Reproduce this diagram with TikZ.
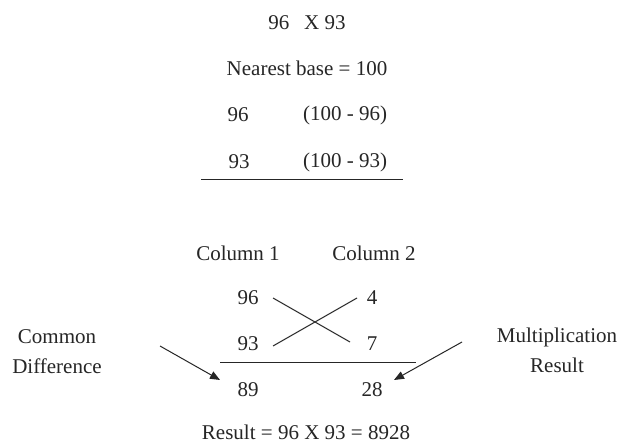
\documentclass[tikz,border=0pt]{standalone}
\usepackage{fontspec}
\setmainfont{Liberation Serif}
\usetikzlibrary{arrows.meta}
\begin{document}
\begin{tikzpicture}[x=1pt,y=-1pt,
  txt/.style={inner sep=0pt,font=\fontsize{21}{25}\selectfont,text=black!85},
  ln/.style={line width=1pt,draw=black!85},
  arr/.style={ln,-{Triangle[length=10pt,width=8pt]}}]
\useasboundingbox[fill=white] (0,0) rectangle (618,446);
\node[txt] (title) at (307,23) {96\hspace{0.7em}X 93};
\node[txt] (base) at (307,68) {Nearest base = 100};
\node[txt] (a1) at (238,115) {96};
\node[txt] (b1) at (345,115) {(100 - 96)};
\node[txt] (a2) at (239,162) {93};
\node[txt] (b2) at (345,162) {(100 - 93)};
\draw[ln] (201,180) -- (403,180);
\node[txt] (c1) at (238,253) {Column 1};
\node[txt] (c2) at (374,253) {Column 2};
\node[txt] (n96) at (248,298) {96};
\node[txt] (n4) at (372,298) {4};
\node[txt] (n93) at (248,344) {93};
\node[txt] (n7) at (372,344) {7};
\coordinate (x1s) at (273,298);
\coordinate (x1e) at (350,342);
\coordinate (x2s) at (273,346);
\coordinate (x2e) at (357,298);
\draw[ln] (x1s) -- (x1e);
\draw[ln] (x2s) -- (x2e);
\draw[ln] (220,362) -- (416,362);
\node[txt] (n89) at (248,390) {89};
\node[txt] (n28) at (372,390) {28};
\node[txt,align=center] (cd) at (57,352) {Common\\[5pt]Difference};
\node[txt,align=center] (mr) at (557,350) {Multiplication\\[5pt]Result};
\coordinate (la) at (160,346);
\coordinate (lb) at (220,380);
\coordinate (ra) at (462,342);
\coordinate (rb) at (394,380);
\draw[arr] (la) -- (lb);
\draw[arr] (ra) -- (rb);
\node[txt] (res) at (306,432) {Result = 96 X 93 = 8928};
\end{tikzpicture}
\end{document}
